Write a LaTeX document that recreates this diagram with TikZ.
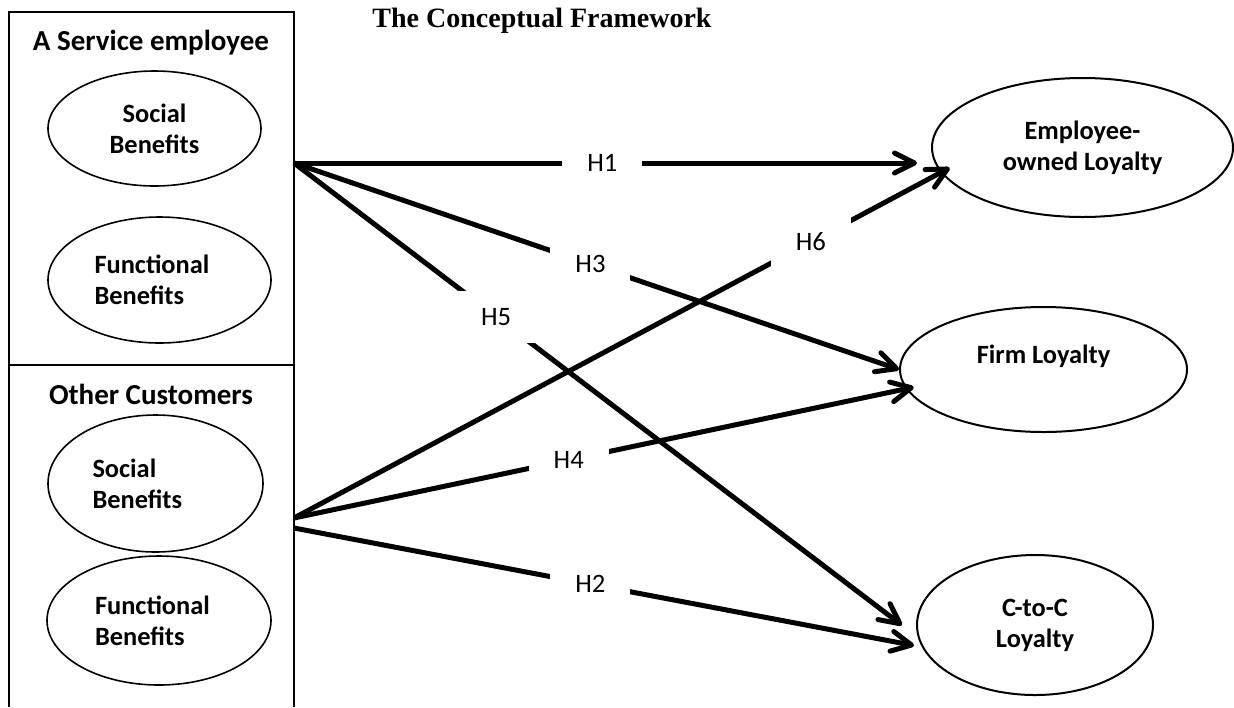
\documentclass[tikz,border=0pt]{standalone}
\usepackage{fontspec}
\setmainfont{Carlito}
\newfontfamily\titlefont{Liberation Serif}
\usetikzlibrary{arrows.meta}
\usetikzlibrary{shapes.geometric}

\tikzset{
  caja/.style={draw, line width=0.8pt},
  encabezado/.style={anchor=base, font=\bfseries\fontsize{14.5}{17}\selectfont},
  elipse/.style={
    ellipse, draw, line width=0.8pt, inner sep=2pt,
    align=center, font=\bfseries\fontsize{13.2}{15.5}\selectfont
  },
  elipser/.style={elipse, line width=1pt},
  flecha/.style={-{Straight Barb[length=10pt,width=10pt,round]}, line width=2.5pt},
  hipo/.style={
    fill=white, minimum width=40pt, minimum height=26pt, inner sep=0pt,
    font=\fontsize{13.3}{15}\selectfont
  }
}

\begin{document}
\begin{tikzpicture}[x=0.5pt, y=-0.5pt]
  \useasboundingbox (0,0) rectangle (1234,707);
  \node[anchor=base, font=\titlefont\bfseries\fontsize{14}{17}\selectfont] (titulo) at (542,27) {The Conceptual Framework};

  % bloques de la izquierda
  \draw[caja] (9,12) rectangle (294,365);
  \draw[caja] (9,707) -- (9,365) -- (294,365) -- (294,707);
  \node[encabezado] (serv) at (151,50) {A Service employee};
  \node[encabezado] (otros) at (151,404) {Other Customers};

  \node[elipse, minimum width=106.5pt, minimum height=57.5pt] (ssoc) at (154.5,128.5) {Social\\Benefits};
  \node[elipse, minimum width=111.5pt, minimum height=63pt, text width=65pt, align=left] (sfun) at (159.5,280) {Functional\\Benefits};
  \node[elipse, minimum width=107.5pt, minimum height=68.5pt, text width=63pt, align=left] (osoc) at (155.5,483.5) {Social\\Benefits};
  \node[elipse, minimum width=112pt, minimum height=64.5pt, text width=64pt, align=left] (ofun) at (159,620.5) {Functional\\Benefits};

  % lealtades
  \node[elipser, minimum width=150.5pt, minimum height=69.5pt] (emp) at (1082.5,147.5) {Employee-\\owned Loyalty};
  \node[elipser, minimum width=143.5pt, minimum height=62.5pt] (firm) at (1043.5,369.5) {Firm Loyalty\\\mbox{}};
  \node[elipser, minimum width=118pt, minimum height=70pt] (c2c) at (1035,625) {C-to-C\\Loyalty};

  \coordinate (sbox) at (294,163);
  \coordinate (obox) at (294,518);
  \coordinate (obox2) at (294,528);

  % hipotesis
  \draw[flecha, shorten >=7pt] (sbox) -- (sbox -| emp.west) node[hipo, pos=0.484] (h1) {H1};
  \draw[flecha] (sbox) -- (firm.west) node[hipo, pos=0.49] (h3) {H3};
  \draw[flecha, shorten >=10pt] (sbox) -- (c2c.186) node[hipo, pos=0.324] (h5) {H5};
  \draw[flecha, shorten >=-5pt] (obox) -- (emp.190) node[hipo, pos=0.799] (h6) {H6};
  \draw[flecha, shorten >=-4pt] (obox) -- (firm.188) node[hipo, pos=0.449] (h4) {H4};
  \draw[flecha, shorten >=4pt] (obox2) -- (c2c.191) node[hipo, pos=0.472] (h2) {H2};
\end{tikzpicture}
\end{document}
